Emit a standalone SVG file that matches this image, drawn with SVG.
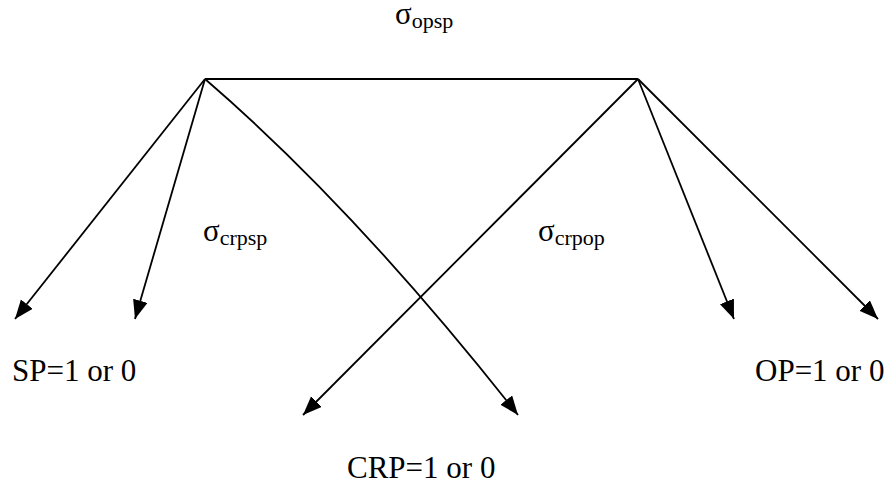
<svg xmlns="http://www.w3.org/2000/svg" width="892" height="491" viewBox="0 0 892 491">
<style>
.t{font-family:"Liberation Serif","Times New Roman",serif;font-size:31px;fill:#000}
.s{font-size:22px}
.c{fill:none;stroke:#000;stroke-width:1.8}
</style>
<defs>
<marker id="ah" markerUnits="userSpaceOnUse" markerWidth="20" markerHeight="16" refX="19" refY="7.5" orient="auto">
<path d="M0,0 L19,7.5 L0,15 z" fill="#000"/>
</marker>
</defs>
<rect width="892" height="491" fill="#fff"/>
<g id="connectors">
<path class="c" d="M205,79 H638"/>
<path class="c" d="M205,79 L15,319" marker-end="url(#ah)"/>
<path class="c" d="M205,79 L135,319" marker-end="url(#ah)"/>
<path class="c" d="M205,79 Q355,208 518,415" marker-end="url(#ah)"/>
<path class="c" d="M638,79 L303,415" marker-end="url(#ah)"/>
<path class="c" d="M638,79 L734,319" marker-end="url(#ah)"/>
<path class="c" d="M638,79 L878,319" marker-end="url(#ah)"/>
</g>
<g id="opsp"><text class="t" x="395" y="24">σ<tspan class="s" dy="4">opsp</tspan></text></g>
<g id="crpsp"><text class="t" x="203" y="241">σ<tspan class="s" dy="4">crpsp</tspan></text></g>
<g id="crpop"><text class="t" x="538" y="241">σ<tspan class="s" dy="4">crpop</tspan></text></g>
<g id="sp"><text class="t" x="12" y="381">SP=1 or 0</text></g>
<g id="op"><text class="t" x="755" y="381">OP=1 or 0</text></g>
<g id="crp"><text class="t" x="347" y="478">CRP=1 or 0</text></g>
</svg>
